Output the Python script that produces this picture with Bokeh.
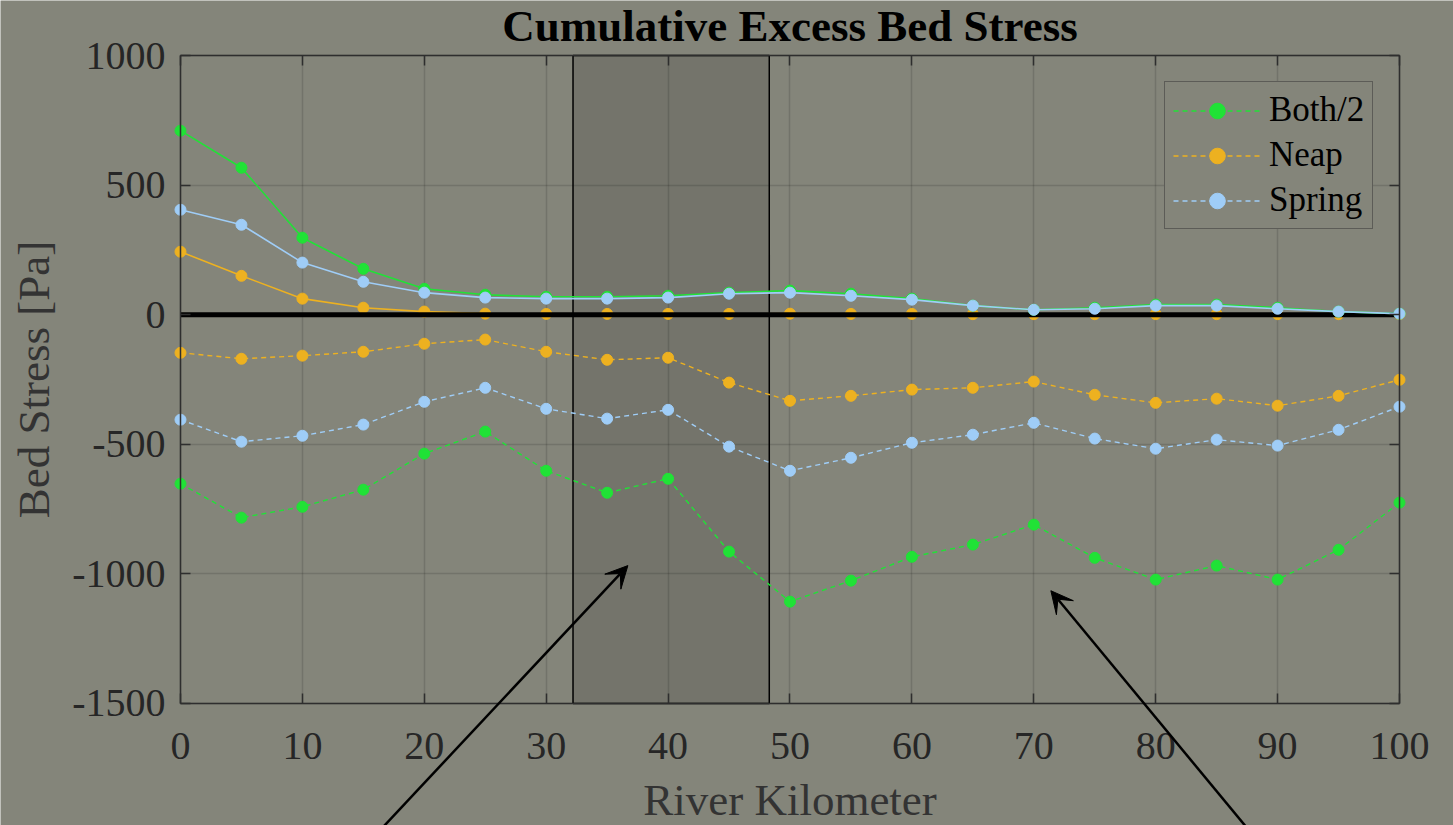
from bokeh.plotting import figure
from bokeh.models import (ColumnDataSource, Range1d, BoxAnnotation, Legend, Grid,
                          LegendItem, LinearAxis, FixedTicker, Arrow, VeeHead, Label,
                          PrintfTickFormatter, CustomJSTickFormatter)
from bokeh.embed import file_html
from bokeh.resources import INLINE

# River kilometre stations
km = [0, 5, 10, 15, 20, 25, 30, 35, 40, 45, 50, 55, 60, 65, 70, 75, 80, 85, 90, 95, 100]

# Positive (erosive) cumulative excess stress
both_pos = [710, 567, 297, 177, 100, 77, 69, 69, 73, 85, 93, 81, 62, 35, 19, 27, 39, 39, 27, 12, 4]
neap_pos = [243, 150, 62, 27, 12, 4, 3, 3, 3, 3, 4, 3, 3, 2, 2, 2, 2, 2, 2, 2, 2]
spring_pos = [405, 347, 201, 127, 85, 66, 62, 62, 66, 81, 85, 73, 58, 35, 19, 23, 35, 35, 23, 12, 4]

# Negative (depositional) cumulative excess stress
both_neg = [-652, -783, -741, -675, -536, -451, -602, -687, -633, -914, -1107, -1026,
            -934, -887, -810, -938, -1022, -968, -1022, -907, -725]
neap_neg = [-147, -170, -158, -143, -112, -96, -143, -174, -166, -262, -332, -313,
            -289, -282, -258, -309, -340, -324, -351, -313, -251]
spring_neg = [-405, -490, -467, -424, -336, -282, -363, -401, -367, -509, -602, -552,
              -494, -463, -417, -478, -517, -482, -505, -444, -355]

series_names = ["Both/2", "Neap", "Spring"]
series_colors = ["#20e236", "#edb120", "#9fcdf7"]

# Highlighted reach (km)
reach = [32.2, 48.3]

# Annotation arrows: (x_start, y_start, x_end, y_end); they start below the axes box
arrow_a = [16.65, -1975, 36.7, -968]
arrow_b = [87.4, -1975, 71.4, -1065]

x_ticks = [0, 10, 20, 30, 40, 50, 60, 70, 80, 90, 100]
y_ticks = [-1500, -1000, -500, 0, 500, 1000]
x_box = (0, 100)
y_box = (-1500, 1000)
# The data frame covers the whole page, so tick labels, title and arrows are free
# to sit outside the axes box
x_frame = (-14.766, 104.43)
y_frame = (-1970.7, 1212.2)
title_pos = (50, 1114)

BG = "#84857a"
AX = "#2e2e2e"
FONT = "Liberation Serif"

p = figure(width=1453, height=825, output_backend="svg", toolbar_location=None,
           x_range=Range1d(*x_frame), y_range=Range1d(*y_frame),
           x_axis_type=None, y_axis_type=None, min_border=0)
p.background_fill_color = BG
p.border_fill_color = BG
p.outline_line_color = None

p.add_layout(Label(x=title_pos[0], y=title_pos[1], text="Cumulative Excess Bed Stress",
                   text_font=FONT, text_font_size="45px", text_font_style="bold",
                   text_color="#000000", text_align="center",
                   text_baseline="alphabetic"))

xaxis = LinearAxis(fixed_location=y_box[0], bounds=x_box)
yaxis = LinearAxis(fixed_location=x_box[0], bounds=y_box)
p.add_layout(xaxis, "below")
p.add_layout(yaxis, "left")

for ax in (xaxis, yaxis):
    ax.axis_line_color = AX
    ax.axis_line_width = 1.5
    ax.major_tick_line_color = AX
    ax.major_tick_line_width = 1.5
    ax.major_tick_in = 10
    ax.major_tick_out = 0
    ax.minor_tick_line_color = None
    ax.major_label_text_font = FONT
    ax.major_label_text_font_size = "40px"
    ax.major_label_text_color = "#262626"
    ax.axis_label_text_font = FONT
    ax.axis_label_text_font_size = "45px"
    ax.axis_label_text_font_style = "normal"
    ax.axis_label_text_color = "#333333"
    ax.formatter = PrintfTickFormatter(format="%d")

xaxis.ticker = FixedTicker(ticks=x_ticks)
yaxis.ticker = FixedTicker(ticks=y_ticks)
xaxis.axis_label = "River Kilometer"
yaxis.axis_label = "Bed Stress [Pa]"
xaxis.major_label_standoff = 30
yaxis.major_label_standoff = 15
xaxis.axis_label_standoff = 12
yaxis.axis_label_standoff = 10

# Box ticks on the top and right edges
blank = CustomJSTickFormatter(code="return ''")
top = LinearAxis(ticker=FixedTicker(ticks=x_ticks), formatter=blank, bounds=x_box,
                 fixed_location=y_box[1],
                 axis_line_color=AX, axis_line_width=1.5, major_tick_line_color=AX,
                 major_tick_line_width=1.5, major_tick_in=10, major_tick_out=0,
                 minor_tick_line_color=None, major_label_standoff=0)
right = LinearAxis(ticker=FixedTicker(ticks=y_ticks), formatter=blank, bounds=y_box,
                   fixed_location=x_box[1],
                   axis_line_color=AX, axis_line_width=1.5, major_tick_line_color=AX,
                   major_tick_line_width=1.5, major_tick_in=10, major_tick_out=0,
                   minor_tick_line_color=None, major_label_standoff=0)
p.add_layout(top, "above")
p.add_layout(right, "right")

xgrid = Grid(dimension=0, ticker=FixedTicker(ticks=x_ticks), cross_bounds=y_box)
ygrid = Grid(dimension=1, ticker=FixedTicker(ticks=y_ticks), cross_bounds=x_box)
for g in (xgrid, ygrid):
    g.grid_line_color = "#000000"
    g.grid_line_alpha = 0.13
    g.grid_line_width = 1.5
    p.add_layout(g)

# Shaded reach
p.add_layout(BoxAnnotation(left=reach[0], right=reach[1], bottom=y_box[0], top=y_box[1],
                           fill_color="#000000", fill_alpha=0.12, line_color="#000000",
                           line_width=1.5, line_alpha=1.0, level="underlay"))

src = ColumnDataSource(dict(km=km, both_pos=both_pos, neap_pos=neap_pos,
                            spring_pos=spring_pos, both_neg=both_neg,
                            neap_neg=neap_neg, spring_neg=spring_neg))

legend_items = []
neg_cols = ["both_neg", "neap_neg", "spring_neg"]
for name, col, color in zip(series_names, neg_cols, series_colors):
    ln = p.line("km", col, source=src, line_color=color, line_width=1.4, line_dash="5 4")
    mk = p.scatter("km", col, source=src, size=11, fill_color=color, line_color=color)
    legend_items.append(LegendItem(label=name, renderers=[ln, mk]))

# Positive branch: neap first, then the zero line, then both and spring
p.line("km", "neap_pos", source=src, line_color=series_colors[1], line_width=1.6)
p.scatter("km", "neap_pos", source=src, size=11, fill_color=series_colors[1],
          line_color=series_colors[1])

p.line(x=list(x_box), y=[0, 0], line_color="#000000", line_width=5)

for col, color in zip(["both_pos", "spring_pos"], [series_colors[0], series_colors[2]]):
    p.line("km", col, source=src, line_color=color, line_width=1.6)
    p.scatter("km", col, source=src, size=11, fill_color=color, line_color=color)

legend = Legend(items=legend_items, location=(1164, 596))
legend.label_text_font = FONT
legend.label_text_font_size = "35px"
legend.label_text_color = "#000000"
legend.background_fill_color = BG
legend.background_fill_alpha = 1.0
legend.border_line_color = "#333333"
legend.border_line_width = 1.5
legend.glyph_width = 88
legend.glyph_height = 39
legend.label_standoff = 8
legend.spacing = 5
legend.padding = 8
legend.margin = 0
p.add_layout(legend)

for a in (arrow_a, arrow_b):
    p.add_layout(Arrow(x_start=a[0], y_start=a[1], x_end=a[2], y_end=a[3],
                       line_color="#000000", line_width=2.5,
                       end=VeeHead(size=22, fill_color="#000000", line_color="#000000")))

open("out.html", "w").write(file_html(p, INLINE))
